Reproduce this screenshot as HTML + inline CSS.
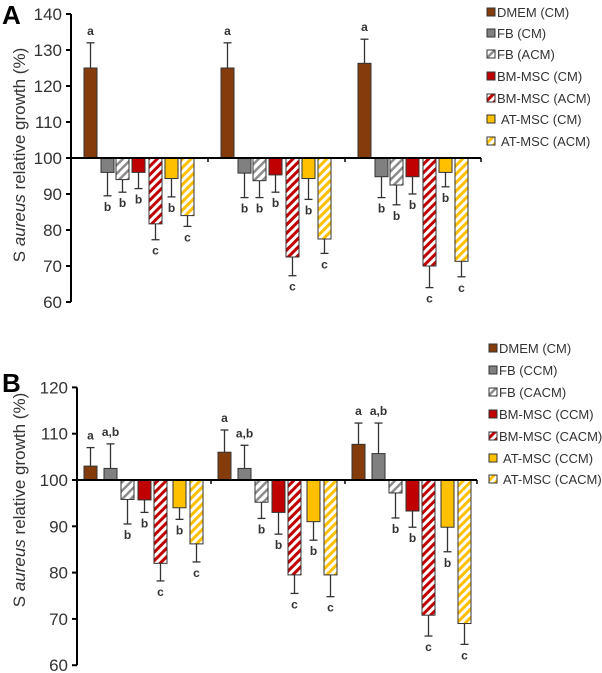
<!DOCTYPE html><html><head><style>body{margin:0;background:#fff}svg{display:block;font-family:"Liberation Sans",sans-serif}</style></head><body>
<svg id="s" width="602" height="673" xmlns="http://www.w3.org/2000/svg">
<defs>
<pattern id="pg" width="6" height="6" patternUnits="userSpaceOnUse" patternTransform="rotate(45)"><rect width="6" height="6" fill="#fff"/><rect width="2.5" height="6" fill="#8c8c8c"/></pattern>
<pattern id="pr" width="6" height="6" patternUnits="userSpaceOnUse" patternTransform="rotate(45)"><rect width="6" height="6" fill="#fff"/><rect width="3" height="6" fill="#c00000"/></pattern>
<pattern id="py" width="6" height="6" patternUnits="userSpaceOnUse" patternTransform="rotate(45)"><rect width="6" height="6" fill="#fff"/><rect width="3" height="6" fill="#ffc000"/></pattern>
</defs>
</svg>
<script>
const s=document.getElementById('s');let h='';
const fills=['#843c0c','#808080','url(#pg)','#c00000','url(#pr)','#ffc000','url(#py)'];
function panel(o){
 const Y=v=>o.y0+(100-v)*o.sc;
 h+=`<line x1="${o.ax}" y1="${Y(o.max)}" x2="${o.ax}" y2="${Y(60)}" stroke="#000" stroke-width="2"/>`;
 for(let v=60;v<=o.max;v+=10){h+=`<line x1="${o.ax-5}" y1="${Y(v)}" x2="${o.ax}" y2="${Y(v)}" stroke="#000" stroke-width="2"/><text x="${o.ax-9}" y="${Y(v)+6}" font-size="17" text-anchor="end" fill="#333">${v}</text>`;}
 o.groups.forEach((g,gi)=>{
  g.forEach((d,i)=>{
   const x=o.x0+gi*o.go+o.off[i],w=13,v=d[0],e=d[1],l=d[2];
   const y1=Math.min(Y(v),Y(100)),hh=Math.abs(Y(v)-Y(100));
   const cx=x+w/2;
   h+=`<line x1="${cx}" y1="${Y(v)}" x2="${cx}" y2="${Y(e)}" stroke="#333" stroke-width="1.3"/><line x1="${cx-4}" y1="${Y(e)}" x2="${cx+4}" y2="${Y(e)}" stroke="#333" stroke-width="1.3"/>`;
   h+=`<rect x="${x}" y="${y1}" width="${w}" height="${hh}" fill="${fills[i]}" stroke="#333" stroke-width="1"/>`;
   const ly=e>100?Y(e)-8:Y(e)+15;
   h+=`<text x="${cx}" y="${ly}" font-size="12" font-weight="bold" text-anchor="middle" fill="#333">${l}</text>`;
  });
 });
 h+=`<line x1="${o.ax}" y1="${Y(100)}" x2="${o.xe}" y2="${Y(100)}" stroke="#000" stroke-width="2"/>`;
 [1,2].forEach(k=>{const tx=o.ax+k*o.go;h+=`<line x1="${tx}" y1="${Y(100)}" x2="${tx}" y2="${Y(100)+4}" stroke="#000" stroke-width="1.5"/>`});
 h+=`<line x1="${o.xe}" y1="${Y(100)}" x2="${o.xe}" y2="${Y(100)+4}" stroke="#000" stroke-width="1.5"/>`;
 h+=`<text x="${o.lab[0]}" y="${o.lab[1]}" font-size="26" font-weight="bold">${o.L}</text>`;
 h+=`<text transform="translate(25,${o.yc}) rotate(-90)" font-size="17" text-anchor="middle" fill="#333">S <tspan font-style="italic">aureus</tspan> relative  growth (%)</text>`;
 o.leg.forEach((t,i)=>{const y=o.ly[i];h+=`<rect x="${o.lx}" y="${y-5}" width="8" height="8" fill="${fills[i]}" stroke="#333" stroke-width="1"/><text x="${o.lx+(i>=5?14:10)}" y="${y+4}" font-size="13" fill="#333">${t}</text>`;});
}
panel({y0:158,sc:3.6,max:140,ax:71,x0:84,go:137,xe:481,off:[0,17,32,48,65,81,97],L:'A',lab:[2,24],yc:155,lx:487,ly:[13,34,55,77,99,120,142],
 leg:['DMEM (CM)','FB (CM)','FB (ACM)','BM-MSC (CM)','BM-MSC (ACM)','AT-MSC (CM)','AT-MSC (ACM)'],
 groups:[[[125,132,'a'],[96,89.5,'b'],[94,90.5,'b'],[96,91.5,'b'],[81.7,77.3,'c'],[94.3,89.2,'b'],[84,81,'c']],
 [[125,132,'a'],[95.8,89,'b'],[93.7,89,'b'],[95.3,90.5,'b'],[72.5,67.3,'c'],[94.3,88.5,'b'],[77.5,73.5,'c']],
 [[126.3,133,'a'],[94.8,89,'b'],[92.5,87,'b'],[94.8,90,'b'],[70,64,'c'],[96,92,'b'],[71.3,67,'c']]]});
panel({y0:480,sc:4.63,max:120,ax:77,x0:84,go:134,xe:477,off:[0,20,37,54,70,89,106],L:'B',lab:[2,392],yc:500,lx:489,ly:[349,371,393,415,437,459,480],
 leg:['DMEM (CM)','FB (CCM)','FB (CACM)','BM-MSC (CCM)','BM-MSC (CACM)','AT-MSC (CCM)','AT-MSC (CACM)'],
 groups:[[[103,107,'a'],[102.5,107.8,'a,b'],[95.8,90.5,'b'],[95.7,93,'b'],[82,78.2,'c'],[94,91.5,'b'],[86.2,82.3,'c']],
 [[106,110.8,'a'],[102.5,107.5,'a,b'],[95.2,91.7,'b'],[93,88.3,'b'],[79.5,75.5,'c'],[91,87,'b'],[79.5,74.8,'c']],
 [[107.7,112.3,'a'],[105.7,112.3,'a,b'],[97.2,91.8,'b'],[93.3,89.8,'b'],[70.8,66.3,'c'],[89.8,84.5,'b'],[69,64.5,'c']]]});
s.insertAdjacentHTML('beforeend',h);
</script></body></html>
